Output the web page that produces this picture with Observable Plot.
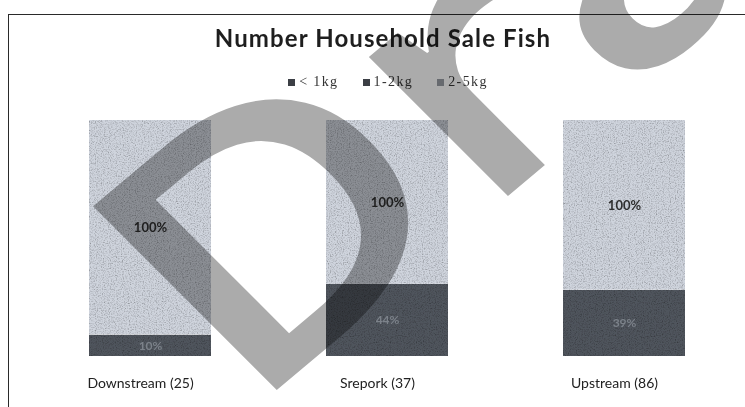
<!DOCTYPE html>
<html>
<head>
<meta charset="utf-8">
<script src="https://cdn.jsdelivr.net/npm/d3@7"></script>
<script src="https://cdn.jsdelivr.net/npm/@observablehq/plot@0.6"></script>
<style>
  html, body { margin: 0; padding: 0; background: #fff; }
  #page { position: relative; width: 745px; height: 407px; overflow: hidden; background: #fff; }
  #frame { position: absolute; left: 8px; top: 14px; width: 800px; height: 450px;
           border-left: 1.5px solid #2a2a2a; border-top: 1.5px solid #2a2a2a; }
  #title { position: absolute; left: 0; top: 26px; width: 766px; text-align: center;
           font-family: Lato, sans-serif; font-weight: 700; font-size: 24px; line-height: 24px;
           letter-spacing: 1.1px; color: #1e1e1e; }
  #legend { position: absolute; left: 0; top: 75px; width: 776px; display: flex; justify-content: center;
            gap: 24px; font-family: "Liberation Serif", serif; font-size: 14px; line-height: 14px;
            letter-spacing: 1.4px; color: #333; }
  #legend span.item { display: flex; align-items: center; gap: 4px; }
  #legend span.sw { display: inline-block; width: 7px; height: 7px; }
  #chart { position: absolute; left: 0; top: 0; }
  #mark { position: absolute; left: 0; top: 0; pointer-events: none; mix-blend-mode: multiply; }
</style>
</head>
<body>
<div id="page">
  <div id="frame"></div>
  <div id="chart"></div>
  <div id="title">Number Household Sale Fish</div>
  <div id="legend"></div>
  <svg id="mark" width="745" height="407">
    <text transform="matrix(0.881,-0.739,0.707,0.707,246.7,415.2)" font-family="Open Sans" font-weight="600"
          font-size="364" fill="#ababab">Draft</text>
  </svg>
</div>
<script>
// Sites surveyed (households in brackets) and fish weight classes sold
const sites = ["Downstream (25)", "Srepork (37)", "Upstream (86)"];
const sizes = ["< 1kg", "1-2kg", "2-5kg"];

// Percent values per weight class, one entry per site
const under1kg = [10, 44, 39];
const from1to2kg = [0, 0, 0];
const from2to5kg = [100, 100, 100];

const sizeColors = ["#50555d", "#50555d", "#cfd4dd"];

const series = [under1kg, from1to2kg, from2to5kg];
const rows = [];
sizes.forEach((size, i) => {
  sites.forEach((site, j) => rows.push({site, size, value: series[i][j]}));
});

// Legend
const legend = document.getElementById("legend");
sizes.forEach((s, i) => {
  const item = document.createElement("span");
  item.className = "item";
  const sw = document.createElement("span");
  sw.className = "sw";
  sw.style.background = i === 2 ? "#9a9ea6" : "#3c3f45";
  item.appendChild(sw);
  item.appendChild(document.createTextNode(s));
  legend.appendChild(item);
});

const stack = (extra) => Plot.stackY({offset: "normalize", x: "site", y: "value", ...extra});

const chart = Plot.plot({
  width: 745,
  height: 407,
  marginTop: 120,
  marginBottom: 51,
  marginLeft: 88,
  marginRight: 59,
  style: {fontFamily: "Lato, sans-serif", fontSize: "14px", color: "#222", background: "transparent"},
  x: {domain: sites, paddingInner: 0.487, paddingOuter: 0, label: null, tickSize: 0, tickPadding: 22},
  y: {axis: null, domain: [0, 1]},
  color: {domain: sizes, range: sizeColors},
  marks: [
    Plot.barY(rows, stack({fill: "size"})),
    Plot.text(rows, stack({
      text: d => d.size === "2-5kg" ? `${d.value}%` : "",
      fill: "#2e2e2e", fontSize: 13, fontWeight: 700
    })),
    Plot.text(rows, stack({
      text: d => d.size === "< 1kg" && d.value > 0 ? `${d.value}%` : "",
      fill: "#7c828a", fontSize: 12, fontWeight: 700
    }))
  ]
});

// Scanned-paper grain on the bars
const ns = "http://www.w3.org/2000/svg";
const defs = document.createElementNS(ns, "defs");
defs.innerHTML = `
  <filter id="grain" x="0" y="0" width="100%" height="100%">
    <feTurbulence type="fractalNoise" baseFrequency="0.85" numOctaves="2" seed="7" result="noise"/>
    <feColorMatrix in="noise" type="saturate" values="0" result="gray"/>
    <feComponentTransfer in="gray" result="speck">
      <feFuncR type="linear" slope="1.6" intercept="0.12"/>
      <feFuncG type="linear" slope="1.6" intercept="0.12"/>
      <feFuncB type="linear" slope="1.6" intercept="0.12"/>
      <feFuncA type="linear" slope="0" intercept="1"/>
    </feComponentTransfer>
    <feBlend in="SourceGraphic" in2="speck" mode="multiply" result="mix"/>
    <feComposite in="mix" in2="SourceGraphic" operator="in"/>
  </filter>`;
chart.insertBefore(defs, chart.firstChild);
chart.querySelectorAll('g[aria-label="bar"]').forEach(g => g.setAttribute("filter", "url(#grain)"));
chart.querySelectorAll('g[aria-label="x-axis tick label"] text, g[aria-label="x-axis"] text')
  .forEach(t => t.setAttribute("dx", "-10"));

document.getElementById("chart").appendChild(chart);
</script>
</body>
</html>
